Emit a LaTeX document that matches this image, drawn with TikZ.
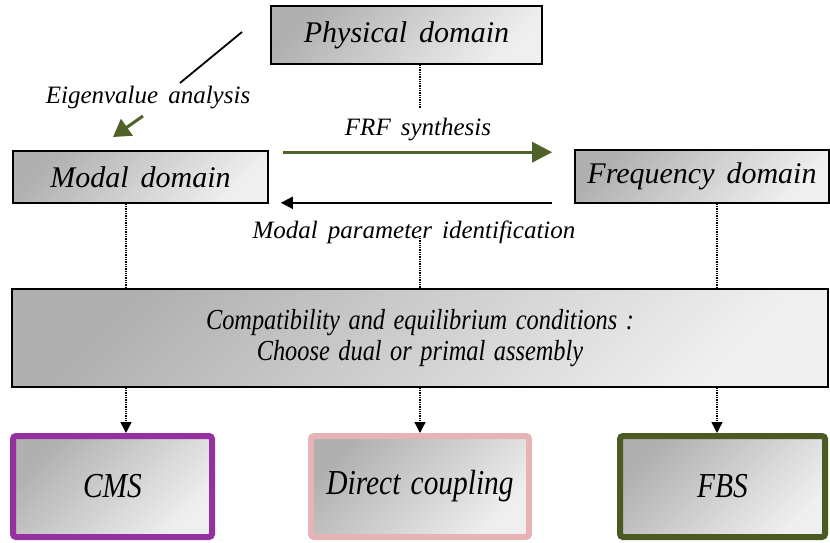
\documentclass[tikz,border=0pt]{standalone}
\usepackage{fontspec}
\setmainfont{Liberation Serif}[WordSpace=1.6]
\newfontfamily\condensed{Liberation Serif}[FakeStretch=0.84, WordSpace=1.4]
\usetikzlibrary{arrows.meta}

\definecolor{shadeDark}{HTML}{B0B0B0}
\definecolor{shadeLight}{HTML}{EFEFEF}
\definecolor{cmsPurple}{HTML}{9530A0}
\definecolor{dcPink}{HTML}{E6B4B4}
\definecolor{fbsOlive}{HTML}{4B5A23}
\definecolor{arrowGreen}{HTML}{4F6228}

\tikzset{
  graybox/.style={shading=axis, top color=shadeDark, bottom color=shadeLight,
    shading angle=45, draw=black, line width=1.6pt, inner sep=0pt,
    font=\itshape\fontsize{30}{32}\selectfont},
  method/.style={shading=axis, top color=shadeDark, bottom color=shadeLight,
    shading angle=45, line width=6pt, rounded corners=3pt, inner sep=0pt,
    minimum height=101pt, font=\condensed\itshape\fontsize{35}{38}\selectfont},
  lbl/.style={inner sep=0pt, font=\itshape\fontsize{25}{27}\selectfont},
  link/.style={densely dotted, line width=1.3pt},
  down/.style={link, -{Triangle[width=11pt,length=11pt]}},
}

\begin{document}
\begin{tikzpicture}[x=1pt, y=-1pt]
\useasboundingbox (0,0) rectangle (830,543);

% domains
\node[graybox, minimum width=271pt, minimum height=58pt] (phys) at (406.5,35) {Physical domain};
\node[graybox, minimum width=255pt, minimum height=52pt] (modal) at (140.5,177) {Modal domain};
\node[graybox, minimum width=254pt, minimum height=53pt] (freq) at (702,176.5) {Frequency domain};

% assembly step
\node[graybox, minimum width=816pt, minimum height=98pt, align=center,
  font=\condensed\itshape\fontsize{29}{31}\selectfont] (asm) at (420,338)
  {Compatibility and equilibrium conditions :\\Choose dual or primal assembly};

% substructuring methods
\node[method, draw=cmsPurple, minimum width=199pt] (cms) at (112.5,486.5) {CMS};
\node[method, draw=dcPink, minimum width=218pt] (dc) at (420,486.5) {Direct coupling};
\node[method, draw=fbsOlive, minimum width=205pt] (fbs) at (722.5,486.5) {FBS};

% labels
\node[lbl] (eig) at (148,98) {Eigenvalue analysis};
\node[lbl] (frf) at (418,130) {FRF synthesis};
\node[lbl] (mpi) at (414,232) {Modal parameter identification};

% lanes
\coordinate (l1) at (126,0);
\coordinate (l2) at (420,0);
\coordinate (l3) at (717,0);
\coordinate (pd) at (420,108);

% physical -> modal
\coordinate (e1) at (242,32);
\coordinate (e2) at (180,83);
\draw[line width=1.8pt] (e1) -- (e2);
\coordinate (g1) at (143,116);
\coordinate (g2) at (113,137);
\draw[arrowGreen, line width=3pt, -{Triangle[width=20pt,length=17pt]}] (g1) -- (g2);

% modal <-> frequency
\draw[arrowGreen, line width=3pt, -{Triangle[width=20pt,length=20pt]}]
  ([shift={(14,2)}]modal.north east) -- ([shift={(-22,2)}]modal.north east -| freq.west);
\draw[line width=1.8pt, -{Triangle[width=12pt,length=12pt]}]
  ([shift={(-22,-1)}]modal.south east -| freq.west) -- ([shift={(12,-1)}]modal.south east);

% dotted connections
\draw[link] (phys.south -| pd) -- (pd);
\draw[link] (modal.south -| l1) -- (asm.north -| l1);
\draw[link] ([yshift=8pt]mpi.south -| l2) -- (asm.north -| l2);
\draw[link] (freq.south -| l3) -- (asm.north -| l3);
\draw[down] (asm.south -| l1) -- (cms.north -| l1);
\draw[down] (asm.south -| l2) -- (dc.north -| l2);
\draw[down] (asm.south -| l3) -- (fbs.north -| l3);
\end{tikzpicture}
\end{document}
